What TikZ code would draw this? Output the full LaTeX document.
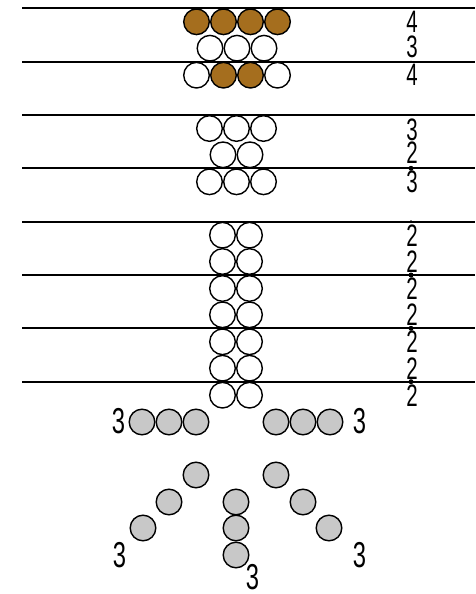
\documentclass[tikz,border=0pt]{standalone}
\usepackage{fontspec}
\newfontfamily\countfont[FakeStretch=0.66]{Liberation Sans}
\usetikzlibrary{positioning}
\definecolor{ballbrown}{RGB}{165,110,30}
\definecolor{ballgray}{RGB}{200,200,200}

\begin{document}
\begin{tikzpicture}[x=1pt, y=-1pt,
  ball/.style={draw, circle, line width=1.4pt, minimum size=25.6pt, inner sep=0pt, fill=white},
  brownball/.style={ball, fill=ballbrown},
  grayball/.style={ball, fill=ballgray},
  count/.style={font=\countfont\fontsize{31}{31}\selectfont, inner sep=0pt},
  bigcount/.style={font=\countfont\fontsize{36}{36}\selectfont, inner sep=0pt},
  layer/.style={line width=1.9pt},
  joint/.style={fill=black, circle, inner sep=0pt, minimum size=#1}]
\useasboundingbox (0,0) rectangle (475,594);

% top block: 4 - 3 - 4
\node[brownball] (a11) at (196.5,21.8) {};
\node[brownball] (a12) at (223.5,21.8) {};
\node[brownball] (a13) at (250.5,21.8) {};
\node[brownball] (a14) at (277.5,21.8) {};
\node[ball] (a21) at (210,48.2) {};
\node[ball] (a22) at (237,48.2) {};
\node[ball] (a23) at (264,48.2) {};
\node[ball] (a31) at (196.5,75.2) {};
\node[brownball] (a32) at (223.5,75.2) {};
\node[brownball] (a33) at (250.5,75.2) {};
\node[ball] (a34) at (277.5,75.2) {};

% middle block: 3 - 2 - 3
\node[ball] (b11) at (209.5,128.5) {};
\node[ball] (b12) at (236.5,128.5) {};
\node[ball] (b13) at (263.5,128.5) {};
\node[ball] (b21) at (223,154.8) {};
\node[ball] (b22) at (250,154.8) {};
\node[ball] (b31) at (209.5,181.8) {};
\node[ball] (b32) at (236.5,181.8) {};
\node[ball] (b33) at (263.5,181.8) {};

% column of pairs
\foreach \r/\y in {1/235.2, 2/261.5, 3/288.5, 4/314.8, 5/341.8, 6/368.2, 7/395.2} {
  \node[ball] (c\r1) at (222.5,\y) {};
  \node[ball] (c\r2) at (249.5,\y) {};
  \node[count] (n\r) at (412,\y) {2};
}

% layers
\foreach \i/\y in {1/8.3, 2/61.7, 3/115, 4/168.3, 5/221.7, 6/275, 7/328.3, 8/381.7} {
  \coordinate (lw\i) at (22,\y);
  \coordinate (le\i) at (475,\y);
  \draw[layer] (lw\i) -- (le\i);
}

% counts on the right
\node[count] (k1) at (412,21.8) {4};
\node[count] (k2) at (412,47) {3};
\node[count] (k3) at (412,75.2) {4};
\node[count] (k4) at (412,129.5) {3};
\node[count] (k5) at (412,153) {2};
\node[count] (k6) at (412,181.8) {3};

% where the digits touch the layers
\node[joint=2pt] (j2) at (411,61.7) {};
\node[joint=2pt] (j3) at (411,115) {};
\node[joint=5pt] (j4) at (411,168.3) {};
\node[joint=3pt] (j5) at (411,221.7) {};
\node[joint=5pt] (j6) at (411,275) {};
\node[joint=5pt] (j7) at (411,328.3) {};
\node[joint=5pt] (j8) at (411,381.7) {};

% loose gray chains
\node[grayball] (g1) at (142,422) {};
\node[grayball] (g2) at (169,422) {};
\node[grayball] (g3) at (196,422) {};
\node[grayball] (h1) at (276,422) {};
\node[grayball] (h2) at (303,422) {};
\node[grayball] (h3) at (330,422) {};
\node[grayball] (p1) at (196,475) {};
\node[grayball] (p2) at (169,502) {};
\node[grayball] (p3) at (143,528) {};
\node[grayball] (q1) at (236,502) {};
\node[grayball] (q2) at (236,528) {};
\node[grayball] (q3) at (236,555) {};
\node[grayball] (r1) at (276,475) {};
\node[grayball] (r2) at (303,502) {};
\node[grayball] (r3) at (329,528) {};

\node[bigcount] (gl) at (118.5,421.5) {3};
\node[bigcount] (hl) at (359.5,421.5) {3};
\node[bigcount] (pl) at (119.5,555) {3};
\node[bigcount] (ql) at (252.5,577) {3};
\node[bigcount] (rl) at (359.5,555) {3};

\end{tikzpicture}
\end{document}
